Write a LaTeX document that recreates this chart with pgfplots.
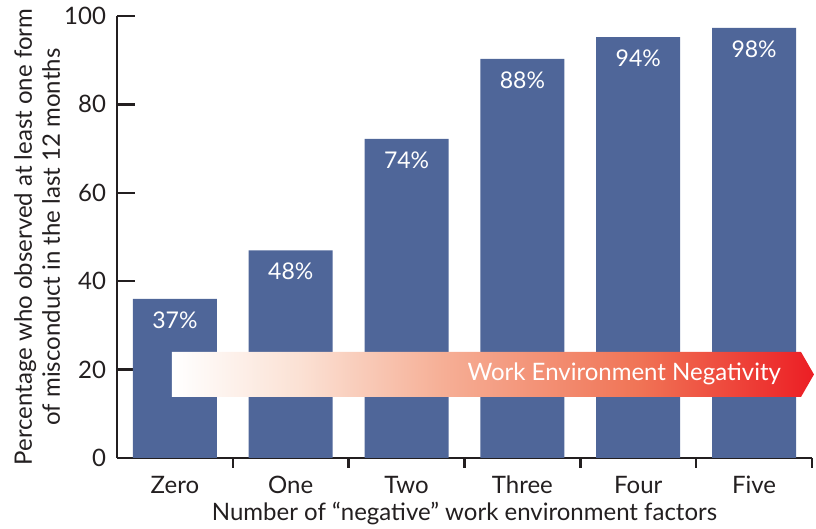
\documentclass[border=0pt]{standalone}
\usepackage{pgfplots}
\pgfplotsset{compat=1.18}
\usepackage{fontspec}
\setmainfont{Lato}
\definecolor{barblue}{RGB}{79,102,153}
\definecolor{txt}{RGB}{35,31,32}
\definecolor{s1}{RGB}{251,225,212}
\definecolor{s2}{RGB}{246,175,150}
\definecolor{s3}{RGB}{240,115,85}
\definecolor{s4}{RGB}{236,30,36}
\pgfdeclarehorizontalshading{negshade}{100bp}{color(0bp)=(white); color(25bp)=(white); color(35bp)=(s1); color(46bp)=(s2); color(61.5bp)=(s3); color(75bp)=(s4); color(100bp)=(s4)}
\begin{document}
\begin{tikzpicture}
\begin{axis}[name=ax, scale only axis, width=347.5pt, height=221pt,
  xmin=-0.5, xmax=5.5, ymin=0, ymax=100, clip=false,
  axis x line=bottom, axis y line=left,
  axis line style={-, line width=1.2pt, txt},
  xtick={0,...,5}, xticklabels={Zero,One,Two,Three,Four,Five},
  minor xtick={0.5,1.5,2.5,3.5,4.5,5.5},
  ytick={0,20,...,100},
  /pgf/number format/assume math mode=true,
  tick align=inside, major tick length=9pt, minor tick length=5pt,
  tick style={line width=1.2pt, txt},
  major x tick style={draw=none},
  font=\fontsize{12}{14}\selectfont,
  xticklabel style={anchor=center, yshift=-4.5pt, text=txt},
  yticklabel style={xshift=-2pt, text=txt},
  ylabel={Percentage who observed at least one form\\of misconduct in the last 12 months},
  ylabel style={at={(axis description cs:-0.115,0.5)}, anchor=center, align=center, text=txt},
  xlabel={Number of ``negative'' work environment factors},
  xlabel style={at={(axis description cs:0.5,0)}, anchor=center, yshift=-28pt, text=txt},
  ybar, bar width=42pt,
  nodes near coords, point meta=explicit symbolic,
  every node near coord/.append style={anchor=center, yshift=-10.5pt, text=white, font=\fontsize{11.5}{14}\selectfont},
]
\addplot[fill=barblue, draw=none] coordinates {
  (0,36.0) [37\%]
  (1,47.0) [48\%]
  (2,72.2) [74\%]
  (3,90.3) [88\%]
  (4,95.2) [94\%]
  (5,97.3) [98\%]
};
\shade[shading=negshade] (axis cs:-0.026,24.0) -- (axis cs:5.405,24.0) -- (axis cs:5.517,18.9) -- (axis cs:5.405,13.8) -- (axis cs:-0.026,13.8) -- cycle;
\node[text=white, font=\fontsize{12}{14}\selectfont] at (axis cs:3.879,19.0) {Work Environment Negativity};
\end{axis}
\pgfresetboundingbox
\path (ax.south west) ++(-58.5pt,-35.5pt) rectangle ++(408pt,264.5pt);
\end{tikzpicture}
\end{document}
